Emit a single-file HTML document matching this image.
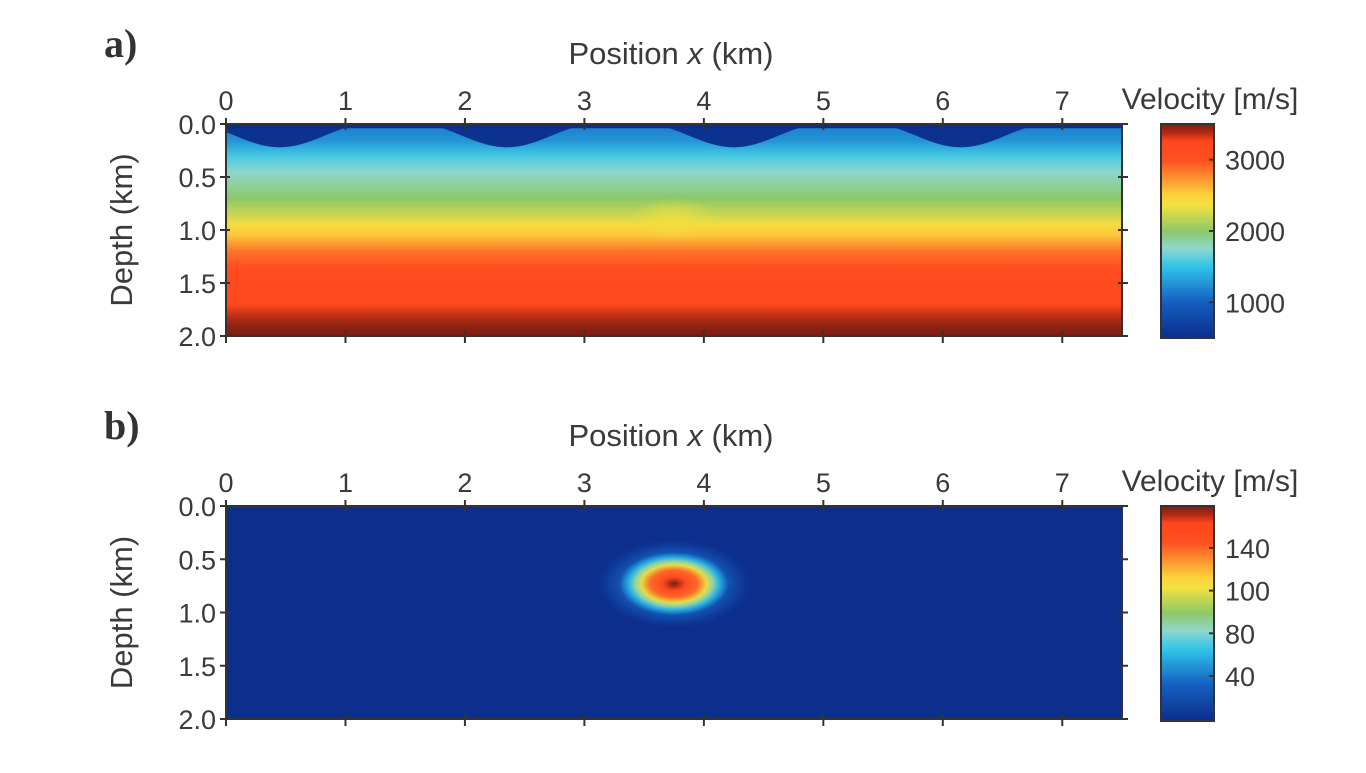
<!DOCTYPE html>
<html><head><meta charset="utf-8"><style>
body{margin:0;background:#fff;}
svg text{font-family:"Liberation Sans",sans-serif;fill:#3a3a3a;}
</style></head><body>
<svg id="fig" width="1366" height="768" viewBox="0 0 1366 768" xmlns="http://www.w3.org/2000/svg">
<defs id="defs"></defs>
<g id="root"></g>
</svg>
<script>
// ---- data ----
const xTicks=[0,1,2,3,4,5,6,7];
const depthTicks=[0.0,0.5,1.0,1.5,2.0];
const depthProfile=[0,0.15,0.3,0.45,0.55,0.7,0.85,0.95,1.05,1.2,1.35,1.5,1.7,1.8,1.9,2.0];
const velocityProfile=[1150,1250,1550,1750,1850,2000,2200,2400,2550,2850,3050,3150,3200,3350,3450,3500];
const troughX=[0.45,2.35,4.25,6.15];
const troughDepth=[0.22,0.22,0.22,0.22];
const cbarATicks=[1000,2000,3000];
const cbarBTicks=[40,80,100,140];
const anomalyX=[3.75];
const anomalyDepth=[0.73];
const anomalyPeak=[180];
// ---- colormap ----
const cmV=[0,0.17,0.33,0.42,0.5,0.62,0.67,0.75,0.83,0.92,0.96,1];
const cmC=["#0c2d8c","#1560c0","#2ec3ea","#8fd8cc","#8cc86a","#f4e040","#fcd03a","#fc9030","#ff5020","#ff461c","#b02a14","#7a1e10"];
function hex(c){return [1,3,5].map(i=>parseInt(c.substr(i,2),16));}
function cm(t){t=Math.max(0,Math.min(1,t));for(let i=1;i<cmV.length;i++){if(t<=cmV[i]){const f=(t-cmV[i-1])/(cmV[i]-cmV[i-1]);const a=hex(cmC[i-1]),b=hex(cmC[i]);return `rgb(${a.map((v,k)=>Math.round(v+(b[k]-v)*f)).join(',')})`;}}return cmC[cmC.length-1];}
const NS="http://www.w3.org/2000/svg";
const root=document.getElementById('root'),defs=document.getElementById('defs');
function mk(tag,at,par){const e=document.createElementNS(NS,tag);for(const k in at)e.setAttribute(k,at[k]);(par||root).appendChild(e);return e;}
const X0=226,X1=1122,XMAX=7.5;
const sx=x=>X0+x/XMAX*(X1-X0);
function panel(id,top,bottom,label){
  const sy=d=>top+d/2*(bottom-top);
  const g=mk('g',{});
  
  
  const lab=mk('text',{x:104,y:top-67,'font-size':40,'font-weight':'bold',style:'font-family:"Liberation Serif",serif;fill:#333'},g);lab.textContent=label;
  
  
  const xt=mk('text',{x:(X0+X1)/2-3,y:top-60,'font-size':31,'text-anchor':'middle'},g);
  xt.innerHTML='Position <tspan font-style="italic">x</tspan> (km)';
  
  
  const yt=mk('text',{transform:`translate(132,${(top+bottom)/2}) rotate(-90)`,'font-size':31,'text-anchor':'middle'},g);yt.textContent='Depth (km)';
  
  
  return {g,sy};
}
// ---- panel a ----
const A=panel('a',124,336,'a)');
{
  const lg=mk('linearGradient',{id:'gA',x1:0,y1:0,x2:0,y2:1},defs);
  depthProfile.forEach((d,i)=>mk('stop',{offset:d/2,'stop-color':cm((velocityProfile[i]-500)/3000)},lg));
  const r=mk('rect',{x:X0,y:A.sy(0),width:X1-X0,height:A.sy(2)-A.sy(0),fill:'url(#gA)'},A.g);
  
  
  troughX.forEach((tx,i)=>{
    const w=0.75;const p=[];
    for(let k=0;k<=40;k++){const x=tx-w+2*w*k/40;if(x<0||x>XMAX)continue;const d=troughDepth[i]*0.5*(1+Math.cos(Math.PI*(x-tx)/w));p.push(`${sx(x)},${A.sy(Math.max(d,0.02))}`);}
    const pth=mk('polygon',{points:`${sx(Math.max(0,tx-w))},${A.sy(0)} `+p.join(' ')+` ${sx(Math.min(XMAX,tx+w))},${A.sy(0)}`,fill:'#0c2d8c',opacity:0.95},A.g);
    
    
  });
  mk('rect',{x:X0,y:A.sy(0),width:X1-X0,height:A.sy(0.04)-A.sy(0),fill:'#0c2d8c'},A.g);
  const rg=mk('radialGradient',{id:'bumpA'},defs);
  mk('stop',{offset:0,'stop-color':'#f4e040','stop-opacity':0.8},rg);mk('stop',{offset:1,'stop-color':'#f4e040','stop-opacity':0},rg);
  const b=mk('ellipse',{cx:sx(anomalyX[0]),cy:A.sy(0.9),rx:45,ry:22,fill:'url(#bumpA)'},A.g);
  
  
}
// ---- panel b ----
const B=panel('b',506,719,'b)');
{
  const r=mk('rect',{x:X0,y:B.sy(0),width:X1-X0,height:B.sy(2)-B.sy(0),fill:'#0c2f8e'},B.g);
  
  
  const rg=mk('radialGradient',{id:'anB'},defs);
  const stops=[[0,1],[0.15,0.88],[0.3,0.8],[0.42,0.6],[0.5,0.45],[0.58,0.3],[0.7,0.12],[0.85,0.05],[1,0]];
  stops.forEach(s=>mk('stop',{offset:s[0],'stop-color':cm(s[1]*anomalyPeak[0]/180),'stop-opacity':s[0]>0.85?0.6:1},rg));
  const e=mk('ellipse',{cx:sx(anomalyX[0]),cy:B.sy(anomalyDepth[0]),rx:78,ry:45,fill:'url(#anB)'},B.g);
  
  
}
// axes, ticks
[[A,124,336],[B,506,719]].forEach(([P,top,bot],pi)=>{
  const fr=mk('rect',{x:X0,y:top,width:X1-X0,height:bot-top,fill:'none',stroke:'#333','stroke-width':2},P.g);
  
  
  xTicks.forEach(t=>{
    mk('line',{x1:sx(t),x2:sx(t),y1:top-6,y2:top+6,stroke:'#333','stroke-width':2},P.g);
    mk('line',{x1:sx(t),x2:sx(t),y1:bot-5,y2:bot+7,stroke:'#333','stroke-width':2},P.g);
    const tx=mk('text',{x:sx(t),y:top-14,'font-size':27,'text-anchor':'middle'},P.g);tx.textContent=t;
    
    
  });
  depthTicks.forEach(d=>{
    const y=P.sy(d);
    mk('line',{x1:X0-6,x2:X0+4,y1:y,y2:y,stroke:'#333','stroke-width':2},P.g);
    mk('line',{x1:X1-4,x2:X1+6,y1:y,y2:y,stroke:'#333','stroke-width':2},P.g);
    const tx=mk('text',{x:X0-10,y:y+10,'font-size':27,'text-anchor':'end'},P.g);tx.textContent=d.toFixed(1);
    
    
  });
  const id='cb'+pi;const lg=mk('linearGradient',{id,x1:0,y1:1,x2:0,y2:0},defs);
  cmV.forEach((v,i)=>mk('stop',{offset:v,'stop-color':cmC[i]},lg));
  const cb=mk('rect',{x:1161,y:top,width:53,height:bot-top+2,fill:`url(#${id})`,stroke:'#333','stroke-width':2},P.g);
  
  
  const ct=mk('text',{x:1210,y:top-15,'font-size':30,'text-anchor':'middle'},P.g);ct.textContent='Velocity [m/s]';
  
  
  if(pi===0){
    cbarATicks.forEach(v=>{const y=(bot+2)-(v-500)/3000*(bot+2-top);
      mk('line',{x1:1209,x2:1214,y1:y,y2:y,stroke:'#333','stroke-width':2},P.g);
      const t=mk('text',{x:1225,y:y+10,'font-size':27},P.g);t.textContent=v;
      
      });
  } else {
    cbarBTicks.forEach((v,i)=>{const y=676-i*42.7;
      mk('line',{x1:1209,x2:1214,y1:y,y2:y,stroke:'#333','stroke-width':2},P.g);
      const t=mk('text',{x:1225,y:y+10,'font-size':27},P.g);t.textContent=v;
      
      });
  }
});
</script>
</body></html>
